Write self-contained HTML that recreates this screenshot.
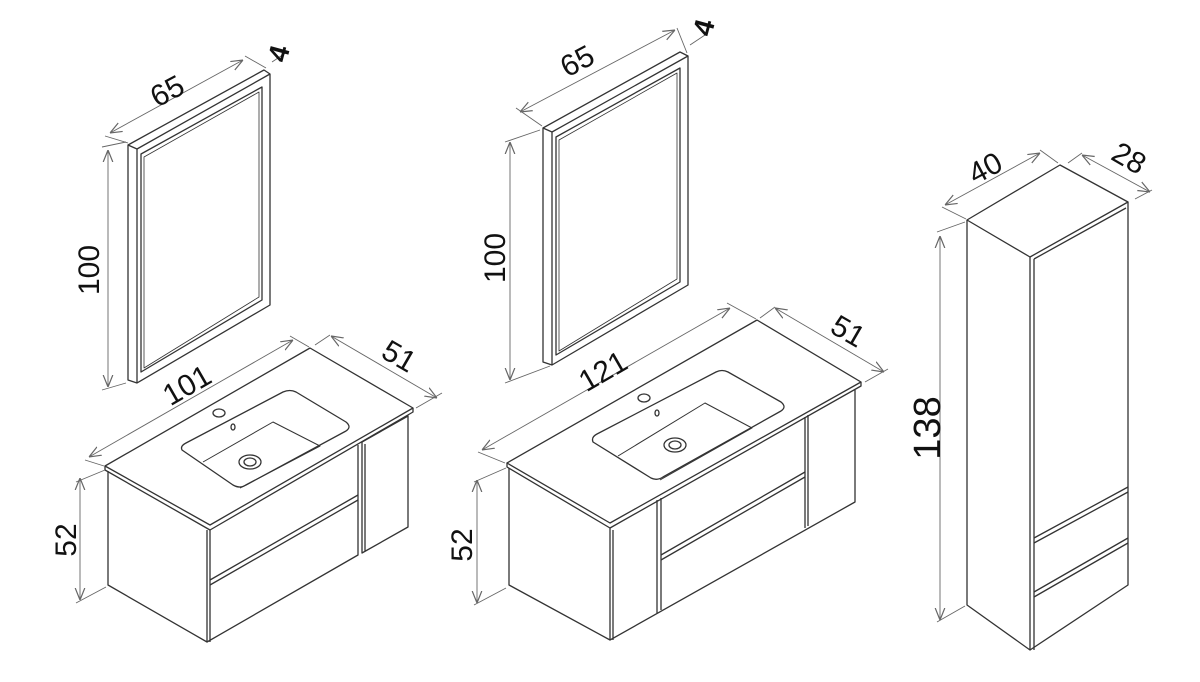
<!DOCTYPE html>
<html><head><style>html,body{margin:0;padding:0;background:#fff}svg{display:block}text{font-family:"Liberation Sans",sans-serif;fill:#111}</style></head>
<body>
<svg width="1200" height="682" viewBox="0 0 1200 682" xmlns="http://www.w3.org/2000/svg">
<defs>
<marker id="a" viewBox="0 0 10 10" refX="10" refY="5" markerWidth="12" markerHeight="12" orient="auto-start-reverse" markerUnits="userSpaceOnUse"><path d="M0,1 L10,5 L0,9" fill="none" stroke="#666" stroke-width="1"/></marker>
</defs>
<g fill="none" stroke="#333" stroke-width="1.3" stroke-linejoin="round">
<path d="M128,145 L264,70 L270,74 L270,305 L137,383 L128,380 Z"/>
<path d="M128,145 L137,149 L270,74 M137,149 L137,383"/>
<path d="M141,154 L262,87 L262,300 L141,372 Z"/>
<path d="M144,157 L259,92 L259,297 L144,368 Z" stroke-width="0.8"/>
<path d="M543,128 L680,52 L688,56 L688,285 L552,365 L543,362 Z"/>
<path d="M543,128 L552,132 L688,56 M552,132 L552,365"/>
<path d="M556,137 L680,68 L680,282 L556,355 Z"/>
<path d="M559,140 L677,73 L677,279 L559,351 Z" stroke-width="0.8"/>
<path d="M105,466 L310,348 L413,408 L210,525 Z"/>
<path d="M105,466 L105,470 L210,530 L413,412 L413,408"/>
<path d="M108,471 L108,585 L207,642 L207,530"/>
<path d="M207,642 L358,555 L358,445 M210,642 L210,530"/>
<path d="M210,580 L358,495 M210,585 L358,500"/>
<path d="M362,442 L408,416 L408,527 L362,553 Z M365,444 L365,551"/>
<path d="M182,450 Q180,446 186,443 L283,392 Q290,389 296,392 L346,422 Q352,427 346,431 L246,485 Q240,489 233,485 Z"/>
<path d="M203,462 L273,422 L320,446 L240,488" stroke-width="1"/>
<ellipse cx="250" cy="462" rx="11" ry="7"/><ellipse cx="250" cy="462" rx="6" ry="4"/>
<ellipse cx="219" cy="413" rx="6" ry="4"/><ellipse cx="233" cy="427" rx="2" ry="3"/>
<path d="M507,463 L757,320 L861,382 L610,523 Z"/>
<path d="M507,463 L507,467 L610,528 L861,386 L861,382"/>
<path d="M509,468 L509,585 L610,640 L610,528"/>
<path d="M613,640 L613,530 M610,640 L855,502 L855,390"/>
<path d="M657,500 L657,613 M661,498 L661,610"/>
<path d="M661,555 L805,472 M661,560 L805,477"/>
<path d="M805,417 L805,528 M808,415 L808,526"/>
<path d="M593,442 Q591,437 597,434 L716,372 Q722,369 728,372 L781,402 Q787,407 781,411 L663,477 Q657,481 651,478 Z"/>
<path d="M618,456 L705,403 L752,428 L660,480" stroke-width="1"/>
<ellipse cx="675" cy="445" rx="11" ry="7"/><ellipse cx="675" cy="445" rx="6" ry="4"/>
<ellipse cx="644" cy="398" rx="6" ry="4"/><ellipse cx="657" cy="413" rx="2" ry="3"/>
<path d="M967,220 L1060,165 L1128,202 L1030,257 Z"/>
<path d="M967,220 L967,605 L1030,650 L1030,257 M1034,259 L1034,650"/>
<path d="M1030,650 L1128,585 L1128,202 M1034,259 L1126,208"/>
<path d="M1034,538 L1128,487 M1034,543 L1128,492"/>
<path d="M1034,592 L1128,538 M1034,597 L1128,543"/>
</g>
<g fill="none" stroke="#666" stroke-width="0.9">
<path d="M110,133 L243,60" marker-start="url(#a)" marker-end="url(#a)"/>
<path d="M108,150 L108,387" marker-start="url(#a)" marker-end="url(#a)"/>
<path d="M102,147 L126,142 M102,390 L126,383 M105,136 L128,143 M245,56 L266,68"/>
<path d="M272,62 L287,52"/>
<path d="M89,457 L293,340" marker-start="url(#a)" marker-end="url(#a)"/>
<path d="M85,460 L104,466 M290,336 L309,347"/>
<path d="M331,336 L437,398" marker-start="url(#a)" marker-end="url(#a)"/>
<path d="M315,345 L330,335 M416,408 L442,393"/>
<path d="M80,478 L80,600" marker-start="url(#a)" marker-end="url(#a)"/>
<path d="M76,482 L105,470 M76,603 L106,587"/>
<path d="M520,112 L675,30" marker-start="url(#a)" marker-end="url(#a)"/>
<path d="M510,142 L510,380" marker-start="url(#a)" marker-end="url(#a)"/>
<path d="M505,142 L540,130 M505,383 L550,366 M516,108 L542,126 M677,28 L687,53"/>
<path d="M690,45 L705,35"/>
<path d="M482,450 L730,308" marker-start="url(#a)" marker-end="url(#a)"/>
<path d="M478,452 L505,463 M727,303 L756,319"/>
<path d="M775,308 L884,372" marker-start="url(#a)" marker-end="url(#a)"/>
<path d="M760,318 L775,307 M865,382 L888,369"/>
<path d="M477,480 L477,603" marker-start="url(#a)" marker-end="url(#a)"/>
<path d="M474,482 L506,468 M474,605 L506,588"/>
<path d="M945,205 L1040,153" marker-start="url(#a)" marker-end="url(#a)"/>
<path d="M940,236 L940,620" marker-start="url(#a)" marker-end="url(#a)"/>
<path d="M937,232 L965,222 M937,622 L965,606 M942,207 L966,219 M1040,150 L1058,163"/>
<path d="M1082,155 L1150,192" marker-start="url(#a)" marker-end="url(#a)"/>
<path d="M1068,163 L1082,153 M1135,199 L1152,190"/>
</g>
<g font-size="30">
<text transform="translate(172,100) rotate(-28)" text-anchor="middle">65</text>
<text transform="translate(288,56) rotate(-75)" text-anchor="middle" font-size="28" font-weight="bold">4</text>
<text transform="translate(99,270) rotate(-90)" text-anchor="middle">100</text>
<text transform="translate(192,394) rotate(-30)" text-anchor="middle">101</text>
<text transform="translate(394,365) rotate(30)" text-anchor="middle">51</text>
<text transform="translate(76,540) rotate(-90)" text-anchor="middle">52</text>
<text transform="translate(582,70) rotate(-28)" text-anchor="middle">65</text>
<text transform="translate(713,30) rotate(-75)" text-anchor="middle" font-size="28" font-weight="bold">4</text>
<text transform="translate(505,258) rotate(-90)" text-anchor="middle">100</text>
<text transform="translate(608,380) rotate(-30)" text-anchor="middle">121</text>
<text transform="translate(843,340) rotate(30)" text-anchor="middle">51</text>
<text transform="translate(472,545) rotate(-90)" text-anchor="middle">52</text>
<text transform="translate(990,177) rotate(-28)" text-anchor="middle">40</text>
<text transform="translate(1124,167) rotate(30)" text-anchor="middle">28</text>
<text transform="translate(940,428) rotate(-90)" text-anchor="middle" font-size="38">138</text>
</g>
</svg>
</body></html>
